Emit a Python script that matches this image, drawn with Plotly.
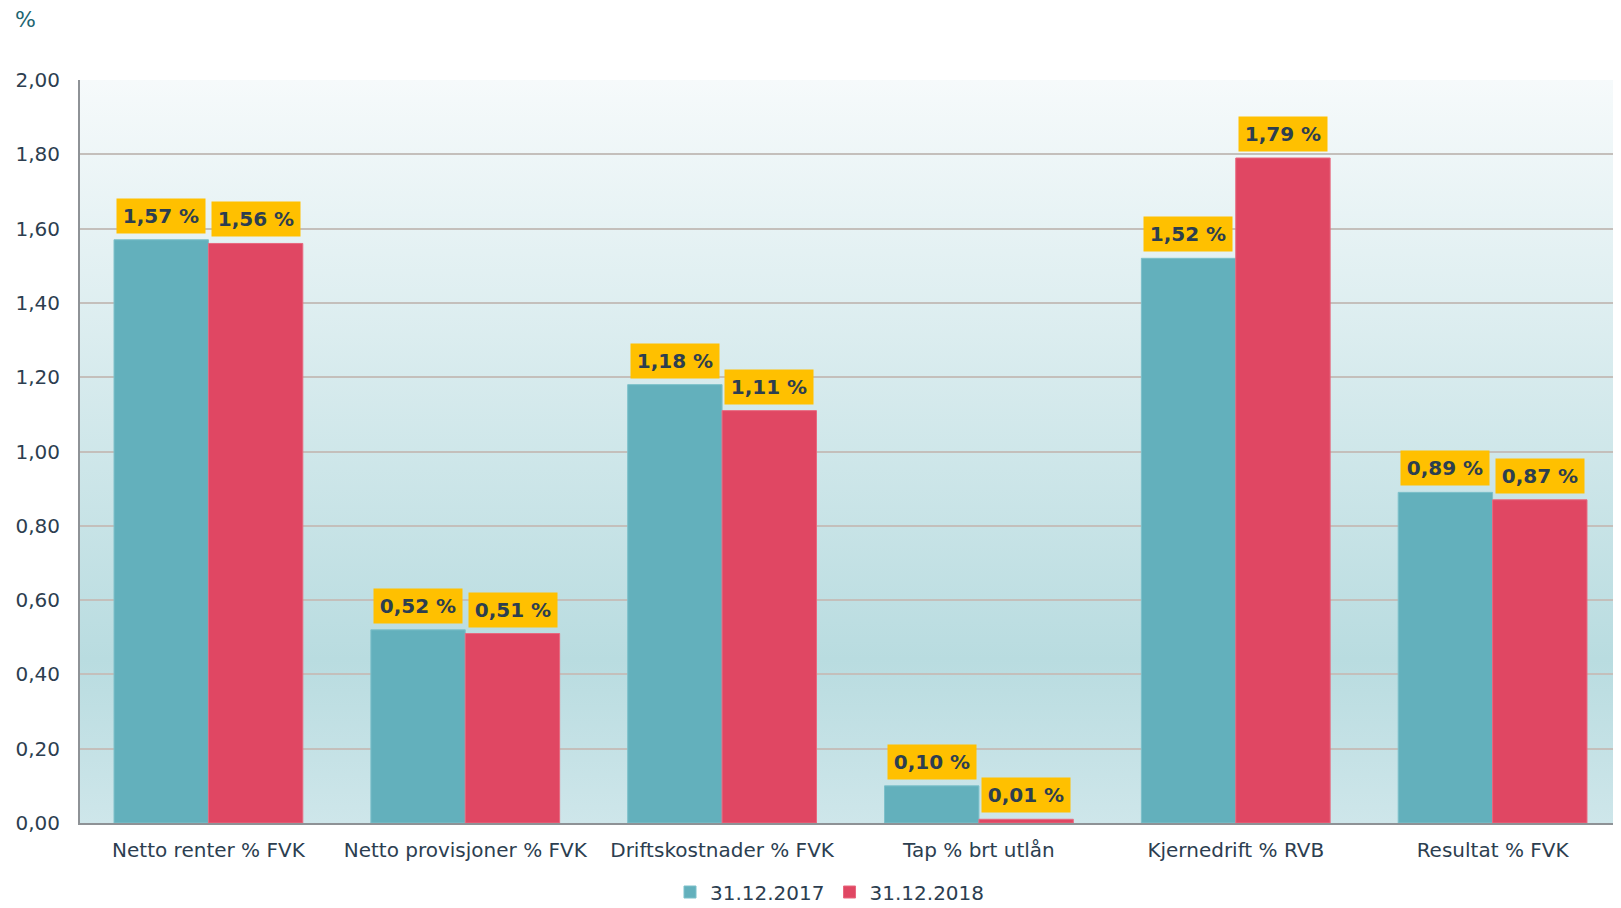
import plotly.graph_objects as go

categories = ["Netto renter % FVK", "Netto provisjoner % FVK", "Driftskostnader % FVK",
              "Tap % brt utlån", "Kjernedrift % RVB", "Resultat % FVK"]
series_names = ["31.12.2017", "31.12.2018"]
values_2017 = [1.57, 0.52, 1.18, 0.10, 1.52, 0.89]
values_2018 = [1.56, 0.51, 1.11, 0.01, 1.79, 0.87]
y_ticks = [0, 0.2, 0.4, 0.6, 0.8, 1.0, 1.2, 1.4, 1.6, 1.8, 2.0]

TEAL = "#63b0bc"
RED = "#e04763"
TXT = "#2c3e50"
FONT = "DejaVu Sans"

# page body has an 8px default margin; compensate so the plot lands where the reference has it
W, H = 1613, 900
ML, MT, MB = 72, 72, 85
PW = W - ML
PH = H - MT - MB

fig = go.Figure()
fig.add_trace(go.Bar(x=categories, y=values_2017, name=series_names[0],
                     marker=dict(color=TEAL, line=dict(color="#7cc0ca", width=1))))
fig.add_trace(go.Bar(x=categories, y=values_2018, name=series_names[1],
                     marker=dict(color=RED, line=dict(color="#e8687f", width=1))))

def fmt(v):
    return f"{v:.2f}".replace(".", ",") + " %"

half = 0.184
annotations = []
for i, (a, b) in enumerate(zip(values_2017, values_2018)):
    for x, v in ((i - half, a), (i + half, b)):
        annotations.append(dict(
            x=x, y=v, xref="x", yref="y", text="<b>" + fmt(v) + "</b>",
            showarrow=False, yanchor="bottom", yshift=6,
            font=dict(family=FONT, size=20, color=TXT),
            bgcolor="#ffc000", borderpad=4, width=80, height=26,
        ))
annotations.append(dict(
    x=-(ML - 5) / PW, y=1 + (MT - 12) / PH, xref="paper", yref="paper",
    text="%", showarrow=False, xanchor="left", yanchor="middle",
    font=dict(family=FONT, size=22, color="#1d6671"),
))

grad_svg = ("data:image/svg+xml;utf8,"
            "<svg xmlns='http://www.w3.org/2000/svg' width='100' height='100' preserveAspectRatio='none'>"
            "<defs><linearGradient id='g' x1='0' y1='0' x2='0' y2='1'>"
            "<stop offset='0' stop-color='%23f6fafb'/>"
            "<stop offset='0.78' stop-color='%23b9dce0'/>"
            "<stop offset='1' stop-color='%23cee6ea'/>"
            "</linearGradient></defs>"
            "<rect width='100' height='100' fill='url(%23g)'/></svg>")

fig.update_layout(
    width=W, height=H,
    margin=dict(l=ML, r=0, t=MT, b=MB, autoexpand=False),
    paper_bgcolor="white",
    plot_bgcolor="rgba(0,0,0,0)",
    separators=", ",
    barmode="group", bargap=0.265, bargroupgap=0,
    font=dict(family=FONT, size=20, color=TXT),
    showlegend=True,
    legend=dict(orientation="h", xref="container", x=(830 - 8) / W, xanchor="center",
                yref="container", y=1 - 884 / H, yanchor="middle",
                font=dict(family=FONT, size=20, color=TXT), itemwidth=30,
                tracegroupgap=0, traceorder="normal", bgcolor="rgba(0,0,0,0)"),
    annotations=annotations,
    shapes=[dict(type="line", xref="x domain", yref="y", x0=0, x1=1, y0=2.0, y1=2.0,
                 line=dict(color="#c4bfbb", width=2), layer="below")],
    images=[dict(source=grad_svg, xref="x domain", yref="y domain", x=0, y=1,
                 sizex=1, sizey=1, xanchor="left", yanchor="top",
                 sizing="stretch", layer="below")],
    xaxis=dict(showgrid=False, showline=True, linecolor="#8e9296", linewidth=2,
               ticks="", automargin=False, ticklabelstandoff=8,
               tickfont=dict(family=FONT, size=20, color=TXT)),
    yaxis=dict(range=[0, 2.0], tickvals=y_ticks, tickformat=".2f",
               showgrid=True, gridcolor="#c4bfbb", gridwidth=2,
               showline=True, linecolor="#8e9296", linewidth=2,
               zeroline=False, ticks="", ticklabelstandoff=14, automargin=False,
               tickfont=dict(family=FONT, size=20, color=TXT)),
)

fig.write_html("out.html")
